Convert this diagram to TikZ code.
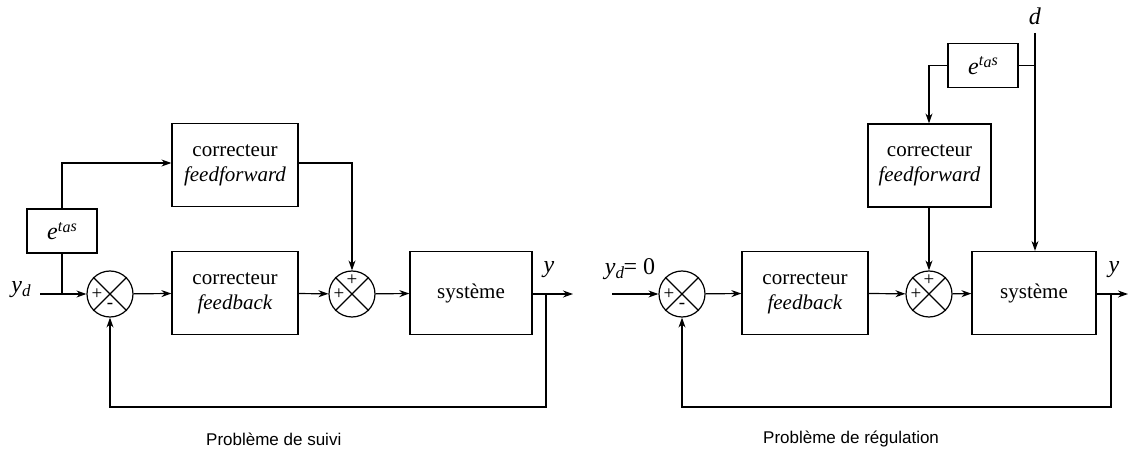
\documentclass[tikz,border=0pt]{standalone}
\usepackage{fontspec}
\setmainfont{Liberation Serif}
\newfontfamily\capfont{Liberation Sans}
\usetikzlibrary{arrows.meta}
\newcommand{\delaytxt}{\fontsize{24}{26}\selectfont\textit{e}\raisebox{8.5pt}{\fontsize{16}{16}\selectfont\textit{t}\raisebox{-1.5pt}{\textit{a}}\textit{s}}}
\newcommand{\ydtxt}{\textit{y}\raisebox{-4pt}{\fontsize{17}{17}\selectfont\textit{d}}}
\tikzset{
  blk/.style={draw, line width=1.2pt, minimum width=126pt, minimum height=83pt, align=center, inner sep=0pt, font=\fontsize{21}{25}\selectfont},
  dly/.style={draw, line width=1.2pt, minimum width=70pt, minimum height=44pt, inner sep=0pt},
  sumc/.style={draw, line width=1.2pt, circle, minimum size=46pt, inner sep=0pt},
  sgn/.style={inner sep=0pt, font=\fontsize{19}{19}\selectfont},
  lbl/.style={inner sep=0pt, font=\fontsize{24}{26}\selectfont},
  captxt/.style={inner sep=0pt, anchor=west, font=\capfont\fontsize{17}{20}\selectfont},
  ln/.style={line width=1.2pt},
  arr/.style={line width=1.2pt, -{Stealth[length=10pt,width=7pt]}}
}
\begin{document}
\begin{tikzpicture}[x=1pt,y=-1pt]
\useasboundingbox (0,0) rectangle (1128,457);
% ---------- left ----------
\node[lbl] (yd1) at (21,290) {\ydtxt};
\coordinate (in1) at (40,294);
\coordinate (j1) at (62,294);
\node[dly] (d1) at (62,231) {\delaytxt};
\node[sumc] (s1) at (110,294) {};
\node[blk] (fb1) at (235,293) {correcteur\\\textit{feedback}};
\node[blk] (ff1) at (235,165) {correcteur\\\textit{feedforward}};
\node[sumc] (s2) at (352,294) {};
\node[blk, minimum width=122pt] (sys1) at (471,293) {système};
\coordinate (out1) at (573,294);
\coordinate (tap1) at (546,294);
\coordinate (b1) at (546,407);
\coordinate (c1) at (62,163);
\coordinate (e1) at (352,163);
\node[lbl] (y1) at (549,270) {\textit{y}};
\draw[ln] (s1.north west) -- (s1.south east) (s1.north east) -- (s1.south west);
\draw[ln] (s2.north west) -- (s2.south east) (s2.north east) -- (s2.south west);
\node[sgn] (p1) at (97,294) {+};
\node[sgn] (m1) at (110,306) {-};
\node[sgn] (p2) at (339,294) {+};
\node[sgn] (p3) at (352,280) {+};
\draw[arr] (in1) -- (s1);
\draw[ln] (d1.south) -- (j1);
\draw[arr] (d1.north) -- (c1) -- (ff1.west |- c1);
\draw[arr] (ff1.east |- e1) -- (e1) -- (s2.north);
\draw[arr] (s1) -- (fb1);
\draw[arr] (fb1) -- (s2);
\draw[arr] (s2) -- (sys1);
\draw[arr] (sys1.east |- out1) -- (out1);
\draw[arr] (tap1) -- (b1) -- (s1.south |- b1) -- (s1.south);
\node[captxt] (cap1) at (206,439) {Problème de suivi};
% ---------- right ----------
\node[lbl] (yd2) at (630,269) {\ydtxt\kern-0.5pt= 0};
\coordinate (in2) at (612,294);
\node[sumc] (s3) at (682,294) {};
\node[blk] (fb2) at (805,293) {correcteur\\\textit{feedback}};
\node[sumc] (s4) at (929,294) {};
\node[blk, minimum width=124pt] (sys2) at (1034,293) {système};
\node[blk, minimum width=123pt] (ff2) at (929.5,165.5) {correcteur\\\textit{feedforward}};
\node[dly] (d2) at (983,65.5) {\delaytxt};
\node[lbl] (dd) at (1035,16) {\textit{d}};
\coordinate (dtop) at (1035,33);
\coordinate (dj) at (1035,65.5);
\coordinate (c2) at (929,65.5);
\coordinate (out2) at (1128,294);
\coordinate (tap2) at (1111,294);
\coordinate (b2) at (1111,407);
\node[lbl] (y2) at (1114,270) {\textit{y}};
\draw[ln] (s3.north west) -- (s3.south east) (s3.north east) -- (s3.south west);
\draw[ln] (s4.north west) -- (s4.south east) (s4.north east) -- (s4.south west);
\node[sgn] (p4) at (669,294) {+};
\node[sgn] (m2) at (682,306) {-};
\node[sgn] (p5) at (916,294) {+};
\node[sgn] (p6) at (929,280) {+};
\draw[arr] (in2) -- (s3);
\draw[arr] (s3) -- (fb2);
\draw[arr] (fb2) -- (s4);
\draw[arr] (s4) -- (sys2);
\draw[arr] (sys2.east |- out2) -- (out2);
\draw[arr] (tap2) -- (b2) -- (s3.south |- b2) -- (s3.south);
\draw[arr] (dtop) -- (sys2.north -| dtop);
\draw[ln] (d2.east) -- (dj);
\draw[arr] (d2.west) -- (c2) -- (ff2.north -| c2);
\draw[arr] (ff2.south -| s4.north) -- (s4.north);
\node[captxt] (cap2) at (763,439) {Problème de régulation};
\end{tikzpicture}
\end{document}
